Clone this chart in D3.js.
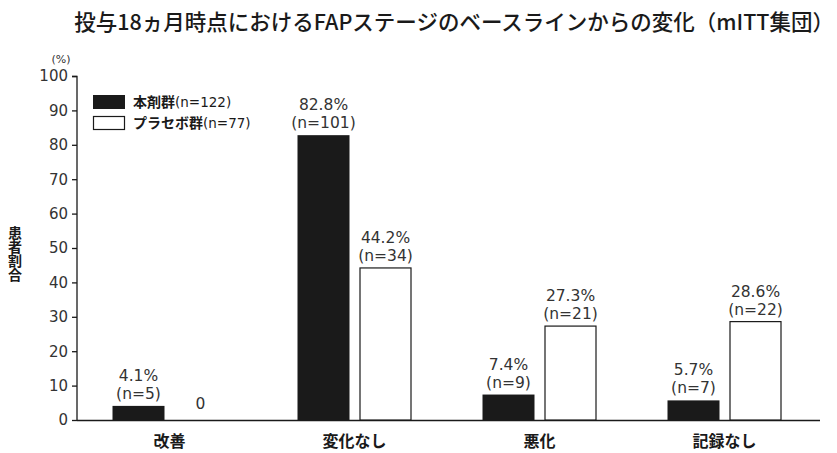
<!DOCTYPE html>
<html>
<head>
<meta charset="utf-8">
<script src="https://cdn.jsdelivr.net/npm/d3@7"></script>
<style>
  html, body { margin: 0; padding: 0; background: #fff; }
  svg { display: block; font-family: "Noto Sans CJK JP", "Noto Sans", sans-serif; }
  .vlabel { writing-mode: vertical-rl; text-orientation: upright; }
</style>
</head>
<body>
<svg id="chart" width="837" height="453"></svg>
<script>
// Categories and series
const categories = ["改善", "変化なし", "悪化", "記録なし"];
const drugValues = [4.1, 82.8, 7.4, 5.7];
const drugCounts = [5, 101, 9, 7];
const placeboValues = [0, 44.2, 27.3, 28.6];
const placeboCounts = [0, 34, 21, 22];
const seriesNames = ["本剤群", "プラセボ群"];
const seriesN = [122, 77];
const yTicks = [0, 10, 20, 30, 40, 50, 60, 70, 80, 90, 100];

const svg = d3.select("#chart");
const ink = "#1a1a1a";
const numFont = "'DejaVu Sans', sans-serif";

const x = d3.scaleBand().domain(categories).range([77, 817]).paddingInner(0).paddingOuter(0);
const y = d3.scaleLinear().domain([0, 100]).range([420, 76]);
const barW = 52, gap = 10;

// Title
svg.append("text")
  .attr("x", 834).attr("y", 30)
  .attr("text-anchor", "end")
  .attr("font-size", 21.5).attr("font-weight", 500).attr("fill", ink)
  .text("投与18ヵ月時点におけるFAPステージのベースラインからの変化（mITT集団）");

// Y axis
const yAxis = d3.axisLeft(y).tickValues(yTicks).tickSize(5).tickPadding(4);
const gy = svg.append("g").attr("transform", "translate(77,0)").call(yAxis);
gy.select(".domain").attr("stroke", ink).attr("stroke-width", 1.3).attr("d", "M-5,76.5H0V420");
gy.selectAll(".tick line").attr("stroke", ink).attr("stroke-width", 1.3);
gy.selectAll(".tick text").attr("font-size", 15).attr("fill", "#333")
  .attr("font-family", numFont);

// X axis baseline
svg.append("line").attr("x1", 77).attr("x2", 820).attr("y1", 420.5).attr("y2", 420.5)
  .attr("stroke", ink).attr("stroke-width", 1.3);

svg.append("text").attr("x", 61).attr("y", 63).attr("text-anchor", "middle")
  .attr("font-size", 11).attr("fill", "#333").attr("font-family", numFont).text("(%)");

// Y axis label, set vertically
svg.append("text")
  .attr("class", "vlabel")
  .attr("x", 15).attr("y", 226)
  .attr("font-size", 14).attr("font-weight", 700).attr("fill", ink)
  .text("患者割合");

// Category labels
svg.append("g").selectAll("text").data(categories).join("text")
  .attr("x", d => x(d) + x.bandwidth() / 2)
  .attr("y", 447)
  .attr("text-anchor", "middle")
  .attr("font-size", 16).attr("font-weight", 700).attr("fill", ink)
  .text(d => d);

// Bars
const rows = categories.map((c, i) => ({
  c, dv: drugValues[i], dn: drugCounts[i], pv: placeboValues[i], pn: placeboCounts[i]
}));
const cx = d => x(d.c) + x.bandwidth() / 2;

svg.append("g").selectAll("rect").data(rows).join("rect")
  .attr("x", d => cx(d) - gap / 2 - barW)
  .attr("y", d => y(d.dv))
  .attr("width", barW)
  .attr("height", d => y(0) - y(d.dv))
  .attr("fill", ink);

svg.append("g").selectAll("rect").data(rows.filter(d => d.pv > 0)).join("rect")
  .attr("x", d => cx(d) + gap / 2 + 0.5)
  .attr("y", d => y(d.pv))
  .attr("width", barW - 1)
  .attr("height", d => y(0) - y(d.pv))
  .attr("fill", "#fff").attr("stroke", ink).attr("stroke-width", 1.2);

// Value labels
function valueLabel(g, xPos, val, n) {
  const top = y(val);
  const t = (yy, s) => g.append("text").attr("x", xPos).attr("y", yy).attr("text-anchor", "middle")
    .attr("font-size", 15.5).attr("fill", "#333").attr("font-family", numFont).text(s);
  if (val === 0) { t(top - 11, "0"); return; }
  t(top - 25, val + "%");
  t(top - 7, "(n=" + n + ")");
}
const lab = svg.append("g");
rows.forEach(d => {
  valueLabel(lab, cx(d) - gap / 2 - barW / 2, d.dv, d.dn);
  valueLabel(lab, cx(d) + gap / 2 + barW / 2, d.pv, d.pn);
});

// Legend
const leg = svg.append("g");
seriesNames.forEach((name, i) => {
  const ly = 95 + i * 21;
  if (i === 0) {
    leg.append("rect").attr("x", 93).attr("y", ly).attr("width", 32).attr("height", 14).attr("fill", ink);
  } else {
    leg.append("rect").attr("x", 93.5).attr("y", ly + 0.5).attr("width", 31).attr("height", 13)
      .attr("fill", "#fff").attr("stroke", ink).attr("stroke-width", 1.2);
  }
  const t = leg.append("text").attr("x", 133).attr("y", ly + 12).attr("font-size", 14).attr("fill", ink);
  t.append("tspan").attr("font-weight", 700).text(name);
  t.append("tspan").attr("font-family", numFont).attr("font-size", 13.5).text("(n=" + seriesN[i] + ")");
});
</script>
</body>
</html>
